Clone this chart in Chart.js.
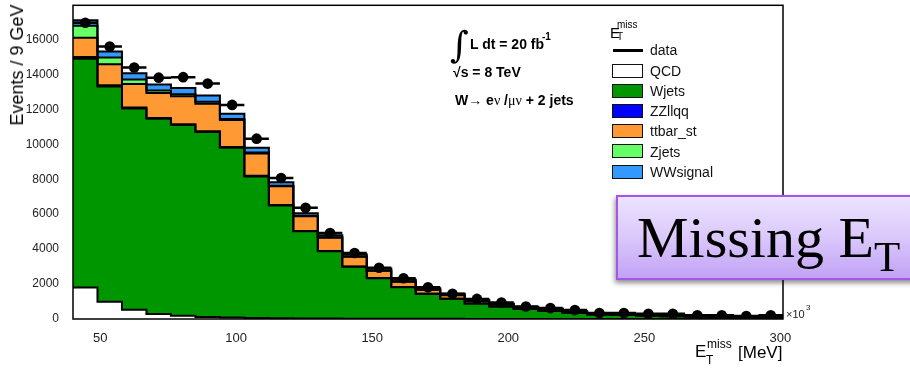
<!DOCTYPE html>
<html>
<head>
<meta charset="utf-8">
<script src="https://cdn.jsdelivr.net/npm/chart.js@4.4.1/dist/chart.umd.min.js"></script>
<style>
  body { margin: 0; background: #fff; }
  #wrap { position: relative; width: 910px; height: 368px; overflow: hidden;
          font-family: "Liberation Sans", Arial, sans-serif; color: #111; }
  #myChart { position: absolute; left: 0; top: 0; }
  .txt { position: absolute; white-space: nowrap; line-height: 1; }
  .box { position: absolute; width: 29px; height: 12px; border: 1.5px solid #111; }
  #missing { position: absolute; left: 616px; top: 195px; width: 310px; height: 81px;
             border: 2px solid #a256ea;
             background: linear-gradient(#ede3ff, #dac8fb 50%, #c2a2f5);
             box-shadow: -1px 3px 5px rgba(0,0,0,0.45); }
</style>
</head>
<body>
<div id="wrap">
  <canvas id="myChart" width="910" height="368"></canvas>
  <div id="labels"></div>
  <div id="missing"></div>
  <div class="txt" style="left:637px;top:209.4px;font:58px 'Liberation Serif',serif;line-height:1;color:#000">Missing E<span style="font-size:43px;position:relative;top:14px">T</span></div>
</div>
<script>
// bin edges in GeV (x10^3 MeV), 9 GeV wide
var binEdges = [40, 49, 58, 67, 76, 85, 94, 103, 112, 121, 130, 139, 148, 157, 166,
                175, 184, 193, 202, 211, 220, 229, 238, 247, 256, 265, 274, 283, 292, 301];

// events per bin for each sample
var qcd = [1800, 980, 530, 285, 190, 115, 90, 60, 45, 35, 25, 20, 15, 12, 10,
           8, 6, 5, 4, 3, 3, 2, 2, 2, 1, 1, 1, 1, 1];
var wjets = [13090, 12330, 11520, 11170, 10910, 10585, 9715, 8100, 6450, 4980, 3855, 2970, 2315, 1805, 1430,
             1145, 880, 710, 565, 470, 340, 260, 220, 190, 160, 135, 115, 95, 80];
var zzllqq = [100, 60, 50, 45, 40, 40, 35, 30, 25, 20, 15, 12, 10, 8, 7,
              6, 5, 4, 4, 3, 3, 2, 2, 2, 1, 1, 1, 1, 1];
var ttbarSt = [1110, 1210, 1350, 1430, 1610, 1570, 1540, 1280, 1070, 850, 760, 555, 420, 310, 220,
               205, 130, 110, 70, 80, 60, 45, 35, 30, 25, 20, 17, 14, 12];
var zjets = [680, 380, 250, 140, 115, 115, 70, 55, 40, 30, 25, 20, 15, 12, 10,
             8, 6, 5, 4, 4, 3, 3, 2, 2, 2, 1, 1, 1, 1];
var wwSignal = [320, 340, 360, 355, 360, 360, 290, 270, 190, 140, 110, 115, 120, 100, 80,
                70, 70, 60, 50, 45, 35, 30, 25, 22, 20, 18, 15, 12, 10];
var dataEvents = [16950, 15590, 14390, 13810, 13840, 13470, 12250, 10320, 8070, 6360, 4920, 3780, 2930, 2330, 1820,
                  1440, 1150, 940, 715, 625, 510, 340, 340, 300, 300, 210, 210, 170, 210];

var xTicks = [50, 100, 150, 200, 250, 300];
var yTicks = [0, 2000, 4000, 6000, 8000, 10000, 12000, 14000, 16000];

var sampleNames = ["QCD", "Wjets", "ZZllqq", "ttbar_st", "Zjets", "WWsignal"];
var sampleColors = ["#ffffff", "#009600", "#0000ff", "#ff9933", "#66ff66", "#3399ff"];
var sampleValues = [qcd, wjets, zzllqq, ttbarSt, zjets, wwSignal];

// histogram outline: one point per left edge, plus the closing right edge
function stepPoints(values) {
  var pts = [];
  for (var i = 0; i < values.length; i++) {
    pts.push({ x: binEdges[i], y: values[i] });
  }
  pts.push({ x: binEdges[values.length], y: values[values.length - 1] });
  return pts;
}

var dataPoints = [];
var dataErrors = [];
for (var i = 0; i < dataEvents.length; i++) {
  dataPoints.push({ x: (binEdges[i] + binEdges[i + 1]) / 2, y: dataEvents[i] });
  dataErrors.push({ x: binEdges[i], y: dataEvents[i] });
  dataErrors.push({ x: binEdges[i + 1], y: dataEvents[i] });
  dataErrors.push({ x: binEdges[i + 1], y: null });
}

var datasets = [{
  label: "data",
  data: dataPoints,
  stack: "data",
  showLine: false,
  pointRadius: 5.3,
  pointBackgroundColor: "#000",
  pointBorderWidth: 0
}, {
  label: "data err",
  data: dataErrors,
  stack: "err",
  borderColor: "#000",
  borderWidth: 2.5,
  pointRadius: 0,
  spanGaps: false
}];

// stacked MC samples, each filled down to the one below it
for (var s = 0; s < sampleNames.length; s++) {
  datasets.push({
    label: sampleNames[s],
    data: stepPoints(sampleValues[s]),
    stack: "mc",
    stepped: "before",
    fill: s === 0 ? "origin" : "-1",
    backgroundColor: sampleColors[s],
    borderColor: "#000",
    borderWidth: 2,
    pointRadius: 0
  });
}

var framePlugin = {
  id: "frame",
  afterDatasetsDraw: function(chart) {
    var a = chart.chartArea, c = chart.ctx;
    c.save();
    c.strokeStyle = "#000";
    c.lineWidth = 1.5;
    c.strokeRect(a.left, a.top, a.right - a.left, a.bottom - a.top);
    c.restore();
  }
};

// keep the plot box fixed, labels may overhang
function noOverhang(scale) {
  scale.paddingTop = 0;
  scale.paddingBottom = 0;
  scale.paddingLeft = 0;
  scale.paddingRight = 0;
}

var ctx = document.getElementById("myChart");
var myChart = new Chart(ctx, {
  type: "line",
  data: { datasets: datasets },
  plugins: [framePlugin],
  options: {
    responsive: false,
    animation: false,
    layout: { padding: { top: 4, right: 127, left: 0, bottom: 0 } },
    plugins: {
      legend: { display: false },
      tooltip: { enabled: false },
      filler: { propagate: false, drawTime: "beforeDatasetsDraw" }
    },
    scales: {
      x: {
        type: "linear",
        min: 40,
        max: 301,
        grid: { display: false },
        border: { display: false },
        ticks: { font: { size: 13, family: "Liberation Sans" }, color: "#222", padding: 4, maxRotation: 0 },
        afterBuildTicks: function(scale) { scale.ticks = xTicks.map(function(v) { return { value: v }; }); },
        afterFit: function(scale) { scale.height = 49; noOverhang(scale); }
      },
      y: {
        stacked: true,
        min: 0,
        max: 17950,
        grid: { display: false },
        border: { display: false },
        ticks: {
          font: { size: 12, family: "Liberation Sans" }, color: "#222", padding: 6,
          callback: function(v) { return String(v); }
        },
        afterBuildTicks: function(scale) { scale.ticks = yTicks.map(function(v) { return { value: v }; }); },
        afterFit: function(scale) { scale.width = 73; noOverhang(scale); }
      }
    }
  }
});

// text and legend on top of the canvas
var labels = document.getElementById("labels");

function addText(html, x, baseline, size, style) {
  var d = document.createElement("div");
  d.className = "txt";
  d.innerHTML = html;
  d.style.left = x + "px";
  d.style.top = (baseline - 0.8465 * size) + "px";
  d.style.fontSize = size + "px";
  if (style) d.style.cssText += style;
  labels.appendChild(d);
  return d;
}

// axis titles
var yTitle = addText("Events / 9 GeV", 0, 0, 18, "color:#000");
yTitle.style.left = "17px";
yTitle.style.top = "65px";
yTitle.style.transform = "translate(-50%, -50%) rotate(-90deg)";

addText("E", 695, 357.5, 17, "color:#000");
addText("miss", 707, 348, 12, "color:#000");
addText("T", 706, 364, 12, "color:#000");
addText("[MeV]", 738, 358, 17, "color:#000");
addText("&times;10", 786, 318, 11, "color:#222");
addText("3", 806, 311, 8, "color:#222");

// luminosity and channel labels
addText("&int;", 450, 57, 36, "font-family:'DejaVu Serif',serif;color:#000");
addText("L dt = 20 fb", 470, 49, 14, "font-weight:bold;color:#000");
addText("-1", 542, 40, 10, "font-weight:bold;color:#000");
addText("&radic;s = 8 TeV", 453, 77, 14, "font-weight:bold;color:#000");
addText("W&rarr; e<span style='font-weight:normal;font-family:\"Liberation Serif\"'>&nu;</span> /<span style='font-weight:normal;font-family:\"Liberation Serif\"'>&mu;&nu;</span> + 2 jets",
        455, 105, 14, "font-weight:bold;color:#000");

// legend
addText("E", 610, 38, 15, "color:#000");
addText("miss", 617, 28.5, 10, "color:#000");
addText("T", 617, 40, 10, "color:#000");

var line = document.createElement("div");
line.style.cssText = "position:absolute;left:613px;top:49px;width:30px;height:2.5px;background:#000";
labels.appendChild(line);
addText("data", 650, 55, 14);

for (var k = 0; k < sampleNames.length; k++) {
  var cy = 71 + 20.1 * k;
  var b = document.createElement("div");
  b.className = "box";
  b.style.left = "612px";
  b.style.top = (cy - 7) + "px";
  b.style.background = sampleColors[k];
  labels.appendChild(b);
  addText(sampleNames[k], 650, cy + 5, 14);
}
</script>
</body>
</html>
